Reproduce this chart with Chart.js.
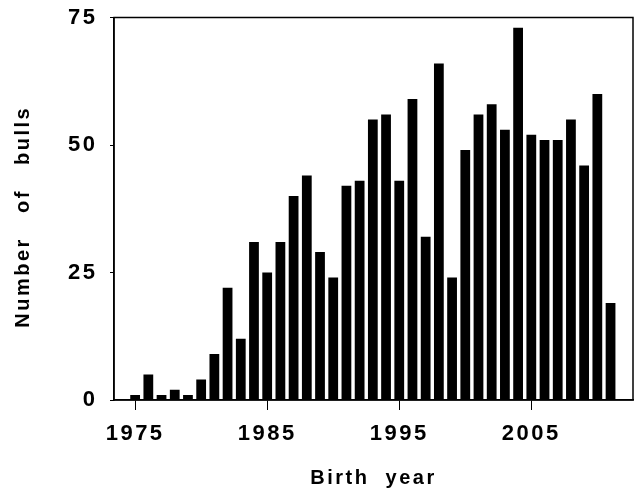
<!DOCTYPE html>
<html>
<head>
<meta charset="utf-8">
<title>Number of bulls by birth year</title>
<script src="https://cdn.jsdelivr.net/npm/chart.js@4.4.1/dist/chart.umd.min.js"></script>
<style>
  html, body { margin: 0; padding: 0; background: #fff; }
  #wrap { width: 639px; height: 491px; }
</style>
</head>
<body>
<div id="wrap"><canvas id="bullsChart" width="639" height="491"></canvas></div>
<script>
// data
var birthYears = [1975, 1976, 1977, 1978, 1979, 1980, 1981, 1982, 1983, 1984,
                  1985, 1986, 1987, 1988, 1989, 1990, 1991, 1992, 1993, 1994,
                  1995, 1996, 1997, 1998, 1999, 2000, 2001, 2002, 2003, 2004,
                  2005, 2006, 2007, 2008, 2009, 2010, 2011];
var bullCounts = [1, 5, 1, 2, 1, 4, 9, 22, 12, 31,
                  25, 31, 40, 44, 29, 24, 42, 43, 55, 56,
                  43, 59, 32, 66, 24, 49, 56, 58, 53, 73,
                  52, 51, 51, 55, 46, 60, 19];
var xTickYears = [1975, 1985, 1995, 2005];
var yTickValues = [0, 25, 50, 75];

Chart.defaults.font.family = "'Liberation Sans', Arial, sans-serif";
Chart.defaults.color = '#000';

// wide letter spacing like the original figure
var spacingPlugin = {
    id: 'spacing',
    beforeLayout: function(chart) { chart.ctx.letterSpacing = '2.5px'; },
    beforeDraw: function(chart) { chart.ctx.letterSpacing = '2.5px'; }
};

// box round the plot area
var framePlugin = {
    id: 'frame',
    afterDraw: function(chart) {
        var a = chart.chartArea, ctx = chart.ctx;
        ctx.save();
        ctx.strokeStyle = '#000';
        ctx.lineWidth = 1.5;
        ctx.strokeRect(a.left, a.top, a.right - a.left, a.bottom - a.top);
        ctx.restore();
    }
};

var points = birthYears.map(function(y, i) {
    return { x: y, y: bullCounts[i] };
});

var ctx = document.getElementById('bullsChart').getContext('2d');
var bullsChart = new Chart(ctx, {
    type: 'bar',
    data: {
        datasets: [{
            label: 'Number of bulls',
            data: points,
            backgroundColor: '#000',
            borderColor: '#000',
            borderWidth: 0,
            barPercentage: 0.74,
            categoryPercentage: 1
        }]
    },
    options: {
        responsive: false,
        animation: false,
        layout: {
            autoPadding: false,
            padding: { top: 17.5, right: 6, left: 0, bottom: 0 }
        },
        plugins: {
            legend: { display: false },
            tooltip: { enabled: false }
        },
        scales: {
            x: {
                type: 'linear',
                min: 1973.4,
                max: 2012.7,
                offset: false,
                afterBuildTicks: function(scale) {
                    scale.ticks = xTickYears.map(function(v) { return { value: v }; });
                },
                afterFit: function(scale) { scale.height = 91; },
                grid: { drawOnChartArea: false, offset: false, tickLength: 10, color: '#000', tickWidth: 1 },
                border: { display: true, color: '#000', width: 1.5 },
                ticks: {
                    padding: 11,
                    maxRotation: 0,
                    font: { size: 22, weight: 'bold' },
                    callback: function(v) { return String(v); }
                },
                title: {
                    display: true,
                    text: 'Birth  year',
                    font: { size: 20, weight: 'bold' },
                    padding: { top: 0, bottom: 1 }
                }
            },
            y: {
                min: 0,
                max: 75,
                afterBuildTicks: function(scale) {
                    scale.ticks = yTickValues.map(function(v) { return { value: v }; });
                },
                afterFit: function(scale) { scale.width = 114; },
                grid: { drawOnChartArea: false, tickLength: 4, color: '#000', tickWidth: 1 },
                border: { display: true, color: '#000', width: 1.5 },
                ticks: {
                    padding: 4,
                    font: { size: 22, weight: 'bold' },
                    // trailing space keeps the labels clear of the axis
                    callback: function(v) { return v + ' '; }
                },
                title: {
                    display: true,
                    text: 'Number   of   bulls  ',
                    font: { size: 20, weight: 'bold' },
                    padding: { top: 11, bottom: 0 }
                }
            }
        }
    },
    plugins: [spacingPlugin, framePlugin]
});
</script>
</body>
</html>
